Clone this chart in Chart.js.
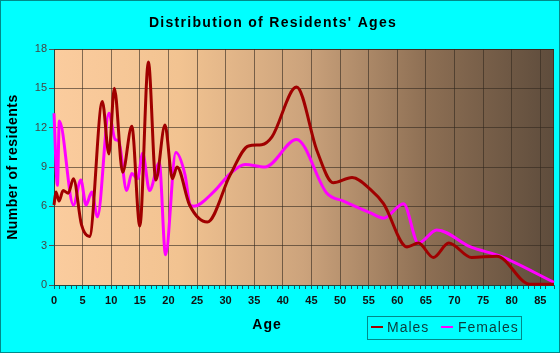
<!DOCTYPE html>
<html>
<head>
    <title>Distribution of Residents' Ages</title>
    <script src="https://cdn.jsdelivr.net/npm/chart.js"></script>
    <style>
        html, body { margin: 0; padding: 0; background: #00ffff; }
        canvas { display: block; }
    </style>
</head>
<body>
<canvas id="ageChart" width="560" height="353"></canvas>

<script>
    // values
    const maleAges = [0, 0.35, 0.87, 1.6, 2.5, 3.4, 4.8, 6.2, 8.45, 9.6, 10.55, 12.0, 13.6, 15.0, 16.5, 17.8, 19.4, 20.7, 21.5, 23.7, 26.8, 30.8, 34, 36.3, 38.1, 42.4, 46, 48.8, 52.1, 55.3, 57.6, 61.7, 63.7, 66.3, 69.0, 73.0, 77.4, 83.2, 87.4];
    const maleValues = [6.1, 7.1, 6.4, 7.2, 7.0, 8.1, 4.6, 3.7, 14.0, 10.0, 15.0, 8.6, 12.1, 4.5, 17.0, 8.0, 12.2, 8.1, 9.0, 6.1, 4.8, 8.4, 10.6, 10.7, 11.3, 15.1, 10.2, 7.8, 8.2, 7.3, 6.2, 2.9, 3.2, 2.1, 3.2, 2.1, 2.2, 0.05, 0.05];

    const femaleAges = [0, 0.6, 0.93, 3.4, 4.7, 5.6, 6.6, 7.6, 9.6, 10.7, 11.3, 12.7, 13.6, 14.6, 15.5, 16.7, 18.4, 19.5, 21.3, 22.9, 23.8, 24.4, 27.9, 30.8, 33.4, 36.9, 42.4, 47.7, 50.6, 55.3, 57.6, 61.1, 63.7, 66.9, 72.8, 78, 87.4];
    const femaleValues = [13.1, 7.6, 12.5, 6.1, 8.0, 6.1, 7.1, 5.2, 13.1, 11.1, 11.0, 7.2, 8.5, 8.1, 10.05, 7.2, 9.3, 2.3, 10.1, 8.4, 6.1, 6.0, 7.1, 8.5, 9.2, 9.0, 11.1, 7.0, 6.4, 5.5, 5.1, 6.2, 3.2, 4.2, 2.9, 2.2, 0.2];

    const xTickStep = 5;
    const yTicks = [0, 3, 6, 9, 12, 15, 18];

    const maleColor = '#a00000';
    const femaleColor = '#ff00ff';
    const teal = '#008a8a';

    // background, gradient plot area and frame
    const backdrop = {
        id: 'backdrop',
        beforeDraw(chart) {
            const c = chart.ctx, a = chart.chartArea;
            c.save();
            c.fillStyle = '#00ffff';
            c.fillRect(0, 0, chart.width, chart.height);
            c.strokeStyle = teal;
            c.lineWidth = 1;
            c.strokeRect(0.5, 0.5, chart.width - 1, chart.height - 1);
            const g = c.createLinearGradient(a.left, 0, a.right, 0);
            g.addColorStop(0, '#fbcc9e');
            g.addColorStop(0.25, '#f2c391');
            g.addColorStop(0.5, '#cca37c');
            g.addColorStop(0.75, '#8c6e53');
            g.addColorStop(1, '#5e4c3c');
            c.fillStyle = g;
            c.fillRect(a.left, a.top, a.right - a.left, a.bottom - a.top);
            c.restore();
        },
        beforeDatasetsDraw(chart) {
            const c = chart.ctx, a = chart.chartArea;
            c.save();
            c.strokeStyle = 'rgba(50,40,30,0.7)';
            c.lineWidth = 1;
            c.strokeRect(a.left + 0.5, a.top + 0.5, a.right - a.left - 1, a.bottom - a.top);
            c.restore();
        }
    };

    // title, axis titles and the legend box
    const labels = {
        id: 'labels',
        afterDraw(chart) {
            const c = chart.ctx;
            c.save();
            c.fillStyle = '#000';
            c.textAlign = 'center';
            c.textBaseline = 'middle';
            c.letterSpacing = '1.3px';
            c.font = 'bold 14px "Liberation Sans", Arial, sans-serif';
            c.fillText("Distribution of Residents' Ages", 273, 23);
            c.letterSpacing = '1px';
            c.fillText('Age', 267, 325);

            c.save();
            c.translate(13, 167);
            c.rotate(-Math.PI / 2);
            c.letterSpacing = '0.5px';
            c.fillText('Number of residents', 0, 0);
            c.restore();

            // legend
            c.strokeStyle = teal;
            c.lineWidth = 1;
            c.strokeRect(367.5, 316.5, 154, 23);
            c.letterSpacing = '1px';
            c.font = '14px "Liberation Sans", Arial, sans-serif';
            c.textAlign = 'left';
            c.fillStyle = '#0b3c3c';
            c.lineWidth = 2;
            c.strokeStyle = maleColor;
            c.beginPath(); c.moveTo(371, 327); c.lineTo(383, 327); c.stroke();
            c.fillText('Males', 387, 328);
            c.strokeStyle = femaleColor;
            c.beginPath(); c.moveTo(441, 327); c.lineTo(453, 327); c.stroke();
            c.fillText('Females', 458, 328);
            c.restore();
        }
    };

    const toPoints = (xs, ys) => xs.map((x, i) => ({ x: x, y: ys[i] }));

    new Chart(document.getElementById('ageChart'), {
        type: 'line',
        data: {
            datasets: [
                {
                    label: 'Males',
                    data: toPoints(maleAges, maleValues),
                    borderColor: maleColor,
                    borderWidth: 3,
                    pointRadius: 0,
                    cubicInterpolationMode: 'monotone',
                    clip: 4,
                    order: 1
                },
                {
                    label: 'Females',
                    data: toPoints(femaleAges, femaleValues),
                    borderColor: femaleColor,
                    borderWidth: 3,
                    pointRadius: 0,
                    cubicInterpolationMode: 'monotone',
                    clip: 4,
                    order: 2
                }
            ]
        },
        options: {
            responsive: false,
            animation: false,
            devicePixelRatio: 1,
            layout: { padding: { top: 49, right: 6, left: 0, bottom: 0 } },
            plugins: {
                legend: { display: false },
                tooltip: { enabled: false }
            },
            scales: {
                x: {
                    type: 'linear',
                    min: 0,
                    max: 87.4,
                    afterFit: s => { s.height = 68; },
                    border: { color: teal },
                    grid: {
                        color: ctx => (ctx.tick && ctx.tick.value % xTickStep === 0 && ctx.tick.value > 0) ? 'rgba(50,40,30,0.6)' : 'transparent',
                        tickColor: '#1a5a5a',
                        tickLength: 4
                    },
                    ticks: {
                        stepSize: 1,
                        autoSkip: false,
                        maxRotation: 0,
                        padding: 5,
                        color: '#111',
                        font: { family: '"Liberation Sans", Arial, sans-serif', size: 11, weight: 'bold' },
                        callback: v => (v % xTickStep === 0 ? v : '')
                    }
                },
                y: {
                    min: yTicks[0],
                    max: yTicks[yTicks.length - 1],
                    afterFit: s => { s.width = 54; },
                    afterBuildTicks: s => { s.ticks = yTicks.map(v => ({ value: v })); },
                    border: { color: teal },
                    grid: {
                        color: ctx => (ctx.tick && ctx.tick.value > 0) ? 'rgba(50,40,30,0.6)' : 'transparent',
                        tickColor: '#555',
                        tickLength: 5
                    },
                    ticks: {
                        padding: 2,
                        color: '#444',
                        font: { family: '"Liberation Sans", Arial, sans-serif', size: 11 }
                    }
                }
            }
        },
        plugins: [backdrop, labels]
    });
</script>
</body>
</html>
